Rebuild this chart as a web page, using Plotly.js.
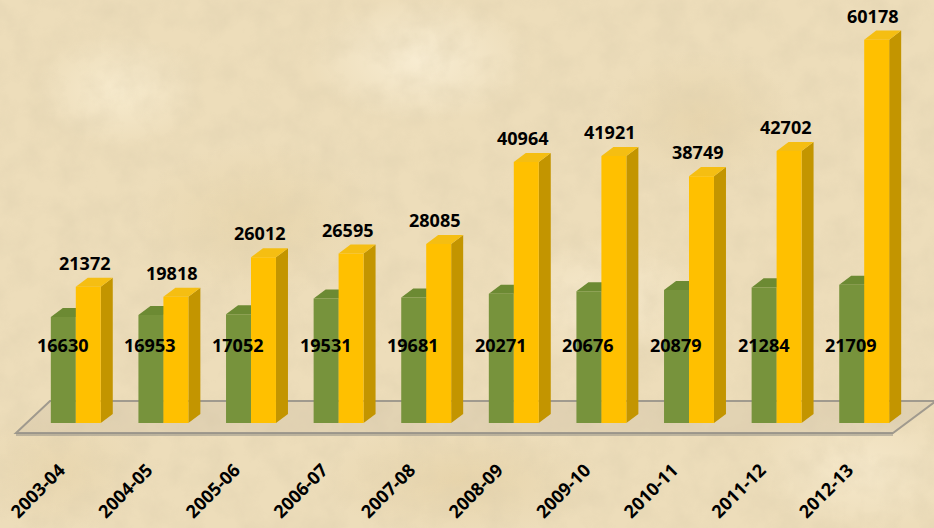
<!DOCTYPE html>
<html>
<head>
<meta charset="utf-8">
<script src="https://cdn.plot.ly/plotly-3.0.1.min.js"></script>
<style>
html,body{margin:0;padding:0;}
body{
  width:934px;height:528px;overflow:hidden;position:relative;
  background-color:#EDDDBA;
  background-image:
    radial-gradient(ellipse 120px 80px at 120px 90px, rgba(255,245,220,0.55), rgba(255,245,220,0) 70%),
    radial-gradient(ellipse 160px 90px at 420px 60px, rgba(255,246,225,0.6), rgba(255,246,225,0) 70%),
    radial-gradient(ellipse 140px 100px at 700px 120px, rgba(220,198,150,0.35), rgba(220,198,150,0) 70%),
    radial-gradient(ellipse 180px 110px at 260px 220px, rgba(222,200,150,0.35), rgba(222,200,150,0) 70%),
    radial-gradient(ellipse 160px 90px at 600px 300px, rgba(255,244,220,0.5), rgba(255,244,220,0) 70%),
    radial-gradient(ellipse 200px 80px at 460px 480px, rgba(220,196,145,0.35), rgba(220,196,145,0) 70%),
    radial-gradient(ellipse 150px 90px at 860px 470px, rgba(255,244,220,0.45), rgba(255,244,220,0) 70%),
    radial-gradient(ellipse 130px 90px at 60px 470px, rgba(224,202,155,0.35), rgba(224,202,155,0) 70%);
}
#texture{position:absolute;left:0;top:0;width:934px;height:528px;pointer-events:none;}
#chart{position:absolute;left:0;top:0;width:934px;height:528px;}
</style>
</head>
<body>
<svg id="texture" width="934" height="528" xmlns="http://www.w3.org/2000/svg">
  <filter id="parch">
    <feTurbulence type="fractalNoise" baseFrequency="0.035" numOctaves="4" seed="7"/>
    <feColorMatrix type="matrix" values="0 0 0 0 0.72  0 0 0 0 0.62  0 0 0 0 0.42  0 0 0 -1.6 1.05"/>
  </filter>
  <rect width="934" height="528" filter="url(#parch)" opacity="0.45"/>
</svg>
<div id="chart"></div>
<script>
var years = ['2003-04','2004-05','2005-06','2006-07','2007-08','2008-09','2009-10','2010-11','2011-12','2012-13'];
var greenValues = [16630,16953,17052,19531,19681,20271,20676,20879,21284,21709];
var yellowValues = [21372,19818,26012,26595,28085,40964,41921,38749,42702,60178];

var idx = years.map(function(_, i){ return i; });

var BARGAP = 0.43;
var W = (1 - BARGAP) / 2;          // width of one bar in axis units
var DX = 0.137;                    // depth offset (x units)
var DY = 1420;                     // depth offset (y units)
var GREEN_LABEL_Y = 12300;

var greenFront = '#77933C', greenTop = '#6C8A33', greenSide = '#5A7428';
var yellowFront = '#FFC000', yellowTop = '#F5BE12', yellowSide = '#C39500';

var shapes = [];
// floor plane (decoration, paper coords)
var L = 32, PW = 876, PH = 423;
function px(x){ return (x - L) / PW; }
function py(y){ return (PH - y) / PH; }
shapes.push({
  type:'path', xref:'paper', yref:'paper', layer:'below',
  path:'M'+px(16)+','+py(433)+' L'+px(50)+','+py(401)+' L'+px(936)+','+py(401)+' L'+px(893)+','+py(433)+' Z',
  fillcolor:'rgba(205,192,165,0.35)', line:{color:'#A09A8E', width:2}
});
shapes.push({
  type:'path', xref:'paper', yref:'paper', layer:'below',
  path:'M'+px(16)+','+py(433)+' L'+px(893)+','+py(433)+' L'+px(893)+','+py(436)+' L'+px(16)+','+py(436)+' Z',
  fillcolor:'rgba(150,145,135,0.55)', line:{width:0}
});

function addFaces(values, offset, topColor, sideColor){
  values.forEach(function(v, i){
    var xl = i + offset - W/2, xr = xl + W;
    shapes.push({type:'path', xref:'x', yref:'y', layer:'below',
      path:'M'+xr+',0 L'+(xr+DX)+','+DY+' L'+(xr+DX)+','+(v+DY)+' L'+xr+','+v+' Z',
      fillcolor:sideColor, line:{width:0}});
    shapes.push({type:'path', xref:'x', yref:'y', layer:'below',
      path:'M'+xl+','+v+' L'+(xl+DX)+','+(v+DY)+' L'+(xr+DX)+','+(v+DY)+' L'+xr+','+v+' Z',
      fillcolor:topColor, line:{width:0}});
  });
}
addFaces(greenValues, -W/2, greenTop, greenSide);
addFaces(yellowValues, W/2, yellowTop, yellowSide);

var labelFont = {family:'Open Sans', size:18, color:'#000000', weight:700};
var annotations = [];
greenValues.forEach(function(v, i){
  annotations.push({x:i - W/2, y:GREEN_LABEL_Y, xref:'x', yref:'y', text:String(v),
    showarrow:false, font:labelFont, xanchor:'center', yanchor:'middle', xshift:-1});
});
yellowValues.forEach(function(v, i){
  annotations.push({x:i + W/2, y:v, xref:'x', yref:'y', text:String(v),
    showarrow:false, font:labelFont, xanchor:'center', yanchor:'bottom', xshift:-4, yshift:10});
});

var traces = [
  {type:'bar', x:idx, y:greenValues, name:'A', marker:{color:greenFront, line:{width:0}}, hoverinfo:'none'},
  {type:'bar', x:idx, y:yellowValues, name:'B', marker:{color:yellowFront, line:{width:0}}, hoverinfo:'none'}
];

var layout = {
  width:934, height:528,
  margin:{l:32, r:26, t:0, b:105},
  paper_bgcolor:'rgba(0,0,0,0)', plot_bgcolor:'rgba(0,0,0,0)',
  barmode:'group', bargap:BARGAP, bargroupgap:0,
  showlegend:false,
  xaxis:{range:[-0.5, 9.5], tickmode:'array', tickvals:idx, ticktext:years,
    tickangle:-45, showgrid:false, zeroline:false, showline:false, ticks:'',
    tickfont:{family:'Open Sans', size:18, color:'#000000', weight:700},
    ticklabelstandoff:32, ticklabelshift:-16, fixedrange:true},
  yaxis:{range:[0, 66400], showgrid:false, zeroline:false, showline:false,
    showticklabels:false, ticks:'', fixedrange:true},
  shapes:shapes,
  annotations:annotations
};

Plotly.newPlot('chart', traces, layout, {displayModeBar:false, staticPlot:true});
</script>
</body>
</html>
